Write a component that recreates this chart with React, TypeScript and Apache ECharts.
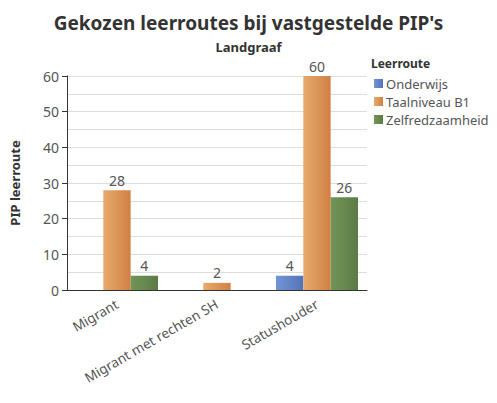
import React, { useEffect, useRef } from "react";
import * as echarts from "echarts";

const categories = ["Migrant", "Migrant met rechten SH", "Statushouder"];
const onderwijs = [null, null, 4];
const taalniveau = [28, 2, 60];
const zelfredzaamheid = [4, null, 26];
const seriesNames = ["Onderwijs", "Taalniveau B1", "Zelfredzaamheid"];

const FONT = "Noto Sans";

function grad(a: string, b: string) {
  return new echarts.graphic.LinearGradient(0, 0, 1, 0, [
    { offset: 0, color: a },
    { offset: 1, color: b },
  ]);
}

export default function App() {
  const ref = useRef<HTMLDivElement>(null);
  useEffect(() => {
    document.body.style.margin = "0";
    if (!ref.current) return;
    const chart = echarts.init(ref.current, undefined, { renderer: "svg" });
    const label = {
      show: true,
      position: "top",
      fontSize: 14,
      color: "#555",
      fontFamily: FONT,
      distance: 3,
    };
    chart.setOption({
      animation: false,
      textStyle: { fontFamily: FONT },
      title: [
        {
          text: "Gekozen leerroutes bij vastgestelde PIP's",
          left: "center",
          top: 8,
          textStyle: { fontSize: 19, fontWeight: "bold", color: "#333", fontFamily: FONT },
        },
        {
          text: "Landgraaf",
          left: "center",
          top: 35,
          textStyle: { fontSize: 13, fontWeight: "bold", color: "#333", fontFamily: FONT },
        },
        {
          text: "Leerroute",
          left: 371,
          top: 57,
          padding: 0,
          textStyle: { fontSize: 12, fontWeight: "bold", color: "#333", fontFamily: FONT },
        },
      ],
      legend: {
        orient: "vertical",
        left: 374,
        top: 77,
        padding: 0,
        itemWidth: 9,
        itemHeight: 9,
        itemGap: 5,
        icon: "rect",
        data: seriesNames,
        textStyle: { fontSize: 13, color: "#555", fontFamily: FONT, padding: [0, 0, 0, -2] },
      },
      grid: { left: 66, right: 130, top: 76, bottom: 113 },
      xAxis: {
        type: "category",
        data: categories,
        axisLine: { lineStyle: { color: "#333", width: 1 } },
        axisTick: { alignWithLabel: true, length: 6, lineStyle: { color: "#333" } },
        axisLabel: { rotate: 30, fontSize: 13.5, color: "#555", fontFamily: FONT, margin: 13 },
      },
      yAxis: {
        type: "value",
        min: 0,
        max: 60,
        interval: 10,
        name: "PIP leerroute",
        nameLocation: "middle",
        nameRotate: 90,
        nameGap: 46,
        nameTextStyle: { fontSize: 13, fontWeight: "bold", color: "#333", fontFamily: FONT },
        axisLine: { show: true, lineStyle: { color: "#333" } },
        axisTick: { show: true, length: 5, lineStyle: { color: "#333" } },
        axisLabel: { fontSize: 14, color: "#555", fontFamily: FONT, margin: 8 },
        splitLine: { lineStyle: { color: "#ddd" } },
        minorTick: { show: false, splitNumber: 2 },
        minorSplitLine: { show: true, lineStyle: { color: "#ddd" } },
      },
      series: [
        {
          name: seriesNames[0],
          type: "bar",
          data: onderwijs,
          barGap: "0%",
          barCategoryGap: "18%",
          itemStyle: { color: grad("#7394d4", "#5374b8") },
          label,
        },
        {
          name: seriesNames[1],
          type: "bar",
          data: taalniveau,
          itemStyle: { color: grad("#e6aa6c", "#d28045") },
          label,
        },
        {
          name: seriesNames[2],
          type: "bar",
          data: zelfredzaamheid,
          itemStyle: { color: grad("#739558", "#5b7b45") },
          label,
        },
      ],
    });
    return () => chart.dispose();
  }, []);
  return <div ref={ref} style={{ width: 497, height: 403 }} />;
}
